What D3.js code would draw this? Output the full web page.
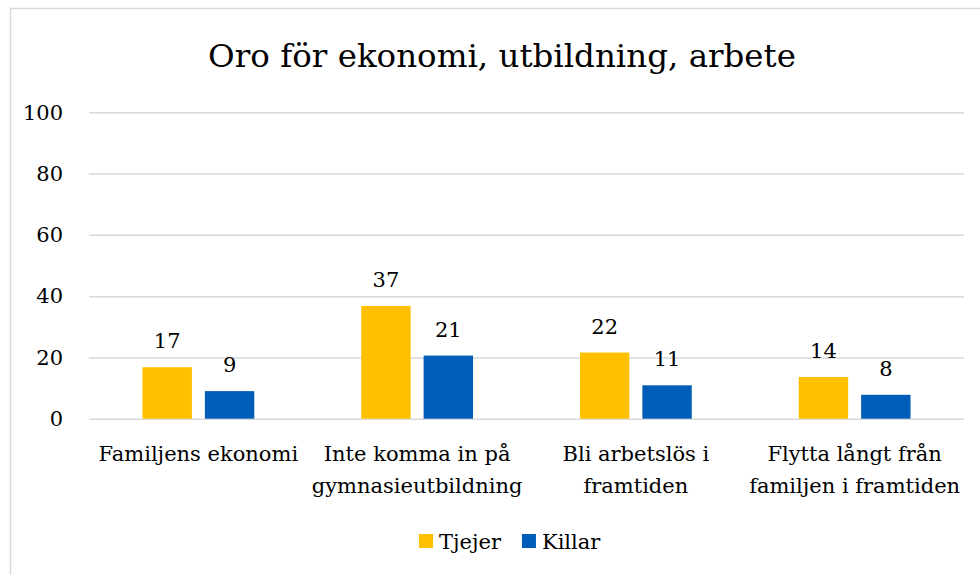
<!DOCTYPE html>
<html>
<head>
<meta charset="utf-8">
<script src="https://cdn.jsdelivr.net/npm/d3@7"></script>
<style>
  html, body { margin: 0; padding: 0; background: #fff; }
  svg text { font-family: "DejaVu Serif", serif; fill: #000; }
</style>
</head>
<body>
<svg id="chart" width="980" height="575"></svg>
<script>
const title = "Oro för ekonomi, utbildning, arbete";
const categories = [
  "Familjens ekonomi",
  "Inte komma in på gymnasieutbildning",
  "Bli arbetslös i framtiden",
  "Flytta långt från familjen i framtiden"
];
const seriesNames = ["Tjejer", "Killar"];
const tjejer = [16.8, 36.8, 21.6, 13.6];
const killar = [9.0, 20.6, 10.9, 7.8];
const yTicks = [0, 20, 40, 60, 80, 100];
const colors = ["#FFC000", "#005EB8"];

const svg = d3.select("#chart");
const W = 980, H = 575;

svg.append("rect").attr("width", W).attr("height", H).attr("fill", "#fff");
svg.append("rect")
  .attr("x", 10.5).attr("y", 8.5).attr("width", 1000).attr("height", 600)
  .attr("fill", "none").attr("stroke", "#d9d9d9").attr("stroke-width", 1.5);

const plot = { left: 89, right: 964, top: 112.3, bottom: 418.7 };

const y = d3.scaleLinear().domain([0, 100]).range([plot.bottom, plot.top]);
const x0 = d3.scaleBand().domain(categories).range([plot.left, plot.right]).padding(0);
const x1 = d3.scaleBand().domain(seriesNames).range([0, x0.bandwidth()])
  .paddingInner(0.208).paddingOuter(0.857);

// title
svg.append("text")
  .attr("x", 502).attr("y", 67)
  .attr("text-anchor", "middle")
  .style("font-size", "32.5px")
  .text(title);

// gridlines
const yAxis = d3.axisLeft(y).tickValues(yTicks).tickSize(-(plot.right - plot.left)).tickPadding(26);
const gy = svg.append("g").attr("transform", `translate(${plot.left},0)`).call(yAxis);
gy.select(".domain").remove();
gy.selectAll(".tick line").attr("stroke", "#d9d9d9").attr("stroke-width", 1.5);
gy.selectAll(".tick text")
  .style("font-size", "21px")
  .style("font-family", "DejaVu Serif, serif")
  .attr("fill", "#000");

// bars
const data = categories.map((c, i) => ({ cat: c, values: [
  { key: seriesNames[0], v: tjejer[i] },
  { key: seriesNames[1], v: killar[i] }
]}));

const groups = svg.append("g").selectAll("g").data(data).join("g")
  .attr("transform", d => `translate(${x0(d.cat)},0)`);

groups.selectAll("rect").data(d => d.values).join("rect")
  .attr("x", d => x1(d.key))
  .attr("width", x1.bandwidth())
  .attr("y", d => y(d.v))
  .attr("height", d => y(0) - y(d.v))
  .attr("fill", (d, i) => colors[i]);

groups.selectAll("text.lbl").data(d => d.values).join("text")
  .attr("class", "lbl")
  .attr("x", d => x1(d.key) + x1.bandwidth() / 2)
  .attr("y", d => y(d.v) - 19)
  .attr("text-anchor", "middle")
  .style("font-size", "21px")
  .text(d => d3.format(".0f")(d.v));

// category labels with wrapping
const maxW = x0.bandwidth() - 4;
const xl = svg.append("g");
categories.forEach(c => {
  const t = xl.append("text")
    .attr("x", x0(c) + x0.bandwidth() / 2)
    .attr("y", 461)
    .attr("text-anchor", "middle")
    .style("font-size", "21px");
  const words = c.split(" ");
  let line = [];
  let tspan = t.append("tspan").attr("x", x0(c) + x0.bandwidth() / 2).attr("dy", 0);
  words.forEach(w => {
    line.push(w);
    tspan.text(line.join(" "));
    if (tspan.node().getComputedTextLength() > maxW && line.length > 1) {
      line.pop();
      tspan.text(line.join(" "));
      line = [w];
      tspan = t.append("tspan").attr("x", x0(c) + x0.bandwidth() / 2).attr("dy", 32).text(w);
    }
  });
});

// legend
const legend = svg.append("g").attr("transform", "translate(419,534)");
let lx = 0;
seriesNames.forEach((s, i) => {
  const g = legend.append("g").attr("transform", `translate(${lx},0)`);
  g.append("rect").attr("width", 14).attr("height", 14).attr("fill", colors[i]);
  const t = g.append("text").attr("x", 20).attr("y", 15).style("font-size", "21px").text(s);
  lx += 20 + t.node().getComputedTextLength() + 21;
});
</script>
</body>
</html>
